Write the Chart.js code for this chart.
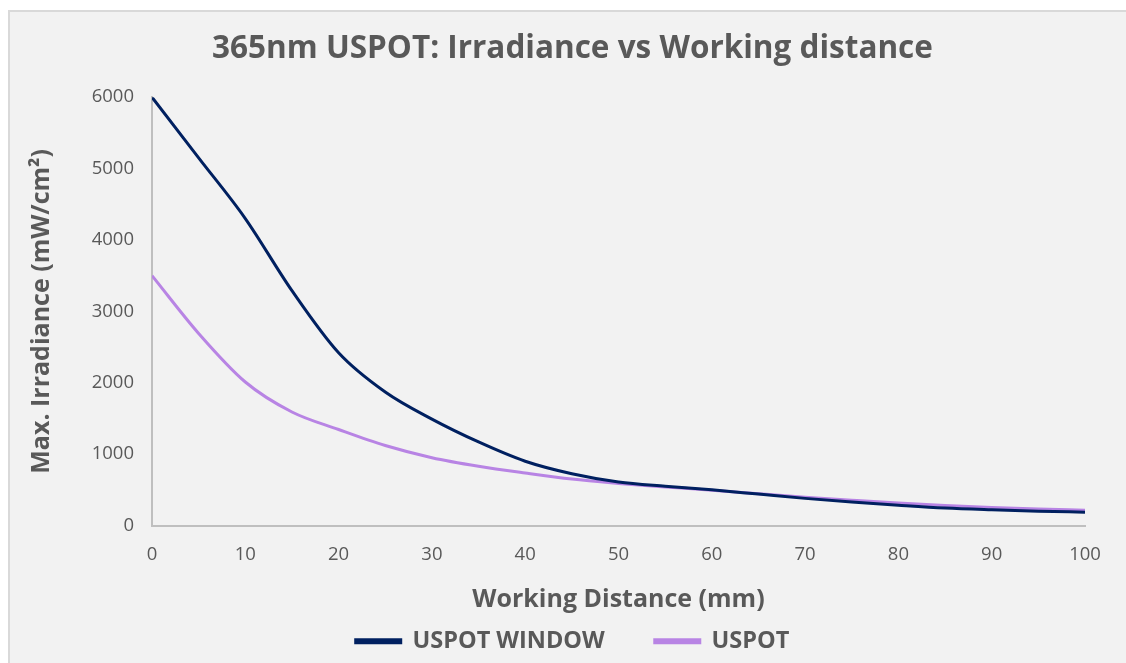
<!DOCTYPE html>
<html>
<head>
<meta charset="utf-8">
<script src="https://cdn.jsdelivr.net/npm/chart.js@4/dist/chart.umd.min.js"></script>
<style>
  html, body { margin: 0; padding: 0; background: #ffffff; width: 1126px; height: 663px; overflow: hidden; }
  #frame { position: absolute; left: 8px; top: 10px; width: 1130px; height: 670px; background: #f2f2f2; border-top: 2px solid #d9d9d9; border-left: 2px solid #d9d9d9; }
  #c { position: absolute; left: 0; top: 0; }
</style>
</head>
<body>
<div id="frame"></div>
<canvas id="c" width="1126" height="663"></canvas>
<script>
const distances = [0, 5, 10, 15, 20, 25, 30, 35, 40, 45, 50, 55, 60, 65, 70, 75, 80, 85, 90, 95, 100];
const uspotWindow = [6000, 5150, 4300, 3290, 2420, 1870, 1490, 1170, 900, 725, 610, 550, 500, 440, 380, 330, 285, 245, 220, 200, 187];
const uspot = [3500, 2690, 2010, 1590, 1345, 1120, 950, 830, 735, 650, 590, 540, 495, 445, 397, 355, 315, 280, 253, 232, 215];
const xTicks = [0, 10, 20, 30, 40, 50, 60, 70, 80, 90, 100];
const yTicks = [0, 1000, 2000, 3000, 4000, 5000, 6000];
const seriesNames = ['USPOT WINDOW', 'USPOT'];

const toPoints = (vals) => distances.map((d, i) => ({ x: d, y: vals[i] }));
const grey = '#595959';
const boldFont = "'Open Sans', Lato, sans-serif";
const tickFont = "'Open Sans', 'Noto Sans', sans-serif";

new Chart(document.getElementById('c'), {
  type: 'line',
  data: {
    datasets: [
      { label: seriesNames[0], data: toPoints(uspotWindow), borderColor: '#002060', backgroundColor: '#002060', borderWidth: 3, pointRadius: 0, cubicInterpolationMode: 'monotone', fill: false },
      { label: seriesNames[1], data: toPoints(uspot), borderColor: '#b884e4', backgroundColor: '#b884e4', borderWidth: 3, pointRadius: 0, cubicInterpolationMode: 'monotone', fill: false }
    ]
  },
  options: {
    responsive: false,
    devicePixelRatio: 1,
    animation: false,
    layout: { padding: { left: 60, right: 41, top: 0, bottom: 0 } },
    plugins: {
      title: {
        display: true,
        text: '365nm USPOT: Irradiance vs Working distance',
        color: grey,
        font: { family: boldFont, size: 31.5, weight: 'bold' },
        padding: { top: 30, bottom: 29.4 }
      },
      legend: {
        position: 'bottom',
        labels: {
          color: grey,
          font: { family: boldFont, size: 23.5, weight: 'bold' },
          boxWidth: 45,
          boxHeight: 3,
          padding: 50
        }
      },
      tooltip: { enabled: false }
    },
    scales: {
      x: {
        type: 'linear',
        min: 0, max: 100,
        afterBuildTicks: (s) => { s.ticks = xTicks.map(v => ({ value: v })); },
        afterFit: (s) => { s.height = 54; },
        grid: { display: true, drawOnChartArea: false, drawTicks: false },
        border: { display: true, color: '#bfbfbf', width: 2 },
        ticks: { color: grey, font: { family: tickFont, size: 18.5 }, padding: 18, maxRotation: 0 },
        title: { display: true, text: 'Working Distance (mm)', color: grey, font: { family: boldFont, size: 25, weight: 'bold' }, padding: { top: 0, bottom: -35 } }
      },
      y: {
        type: 'linear',
        min: 0, max: 6000,
        afterBuildTicks: (s) => { s.ticks = yTicks.map(v => ({ value: v })); },
        afterFit: (s) => { s.width = 92; },
        grid: { display: true, drawOnChartArea: false, drawTicks: false },
        border: { display: true, color: '#bfbfbf', width: 2 },
        ticks: { color: grey, font: { family: tickFont, size: 18.5 }, padding: 18, callback: (v) => String(v) },
        title: { display: true, text: 'Max. Irradiance (mW/cm²)', color: grey, font: { family: boldFont, size: 25, weight: 'bold' }, padding: { top: -33, bottom: 0 } }
      }
    }
  }
});
</script>
</body>
</html>
